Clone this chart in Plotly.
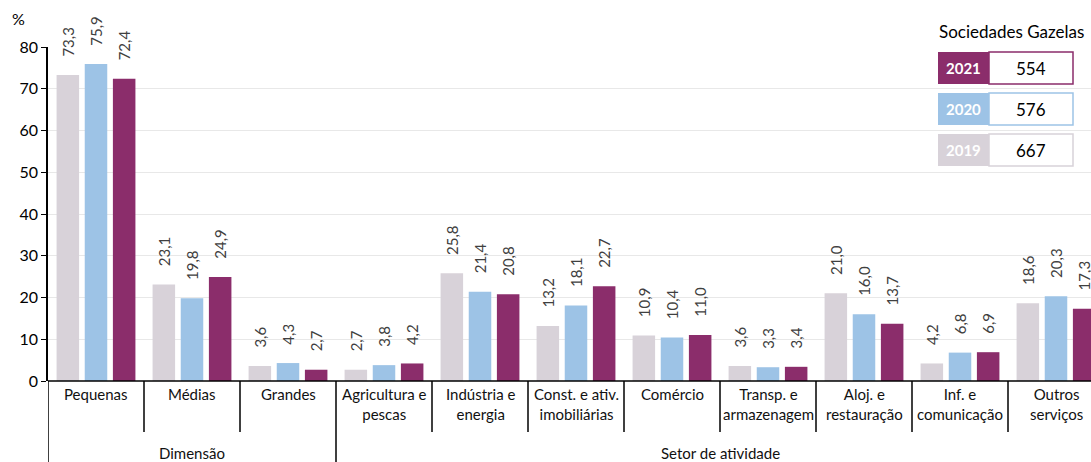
import plotly.graph_objects as go

categories = ["Pequenas", "Médias", "Grandes", "Agricultura e<br>pescas", "Indústria e<br>energia",
              "Const. e ativ.<br>imobiliárias", "Comércio", "Transp. e<br>armazenagem",
              "Aloj. e<br>restauração", "Inf. e<br>comunicação", "Outros<br>serviços"]
v2019 = [73.3, 23.1, 3.6, 2.7, 25.8, 13.2, 10.9, 3.6, 21.0, 4.2, 18.6]
v2020 = [75.9, 19.8, 4.3, 3.8, 21.4, 18.1, 10.4, 3.3, 16.0, 6.8, 20.3]
v2021 = [72.4, 24.9, 2.7, 4.2, 20.8, 22.7, 11.0, 3.4, 13.7, 6.9, 17.3]
years = ["2019", "2020", "2021"]
counts = [667, 576, 554]
colors = ["#D8D2D9", "#9DC3E6", "#8B2D6B"]
groups = [("Dimensão", 0, 2), ("Setor de atividade", 3, 10)]
yticks = [0, 10, 20, 30, 40, 50, 60, 70, 80]

FONT = "Lato"
W, H = 1091, 462
ML, MR, MT, MB = 48, 0, 47, 81
PW, PH = W - ML - MR, H - MT - MB


def px(x):
    return (x - ML) / PW


def py(y):
    return (H - MB - y) / PH


def fmt(v):
    return "\u00a0" * 4 + f"{v:.1f}".replace(".", ",")


xs = list(range(len(categories)))
fig = go.Figure()
for yr, vals, col in zip(years, [v2019, v2020, v2021], colors):
    fig.add_trace(go.Bar(
        x=xs, y=vals, name=yr, marker=dict(color=col, line=dict(width=0)),
        text=[fmt(v) for v in vals], textposition="outside", textangle=-90,
        constraintext="none", cliponaxis=False,
        textfont=dict(family=FONT, size=15, color="#404040"),
    ))

xmax = -0.5 + PW / 96.0
shapes = []
annotations = []
shapes.append(dict(type="line", xref="paper", yref="paper", x0=0, x1=1, y0=0, y1=0,
                   line=dict(color="black", width=1.5)))
group_starts = [g[1] for g in groups]
for i in range(len(categories) + 1):
    full = i in group_starts
    y1 = py(H) if full else py(432)
    shapes.append(dict(type="line", xref="x", yref="paper", x0=i - 0.5, x1=i - 0.5,
                       y0=0, y1=y1, line=dict(color="black", width=1.5)))
for i, c in enumerate(categories):
    annotations.append(dict(x=i, y=py(383), xref="x", yref="paper", text=c, showarrow=False,
                            xanchor="center", yanchor="top",
                            font=dict(family=FONT, size=15, color="#111111")))
for name, a, b in groups:
    annotations.append(dict(x=(a + b) / 2, y=py(442), xref="x", yref="paper", text=name,
                            showarrow=False, xanchor="center", yanchor="top",
                            font=dict(family=FONT, size=15, color="#111111")))
annotations.append(dict(x=px(18), y=py(18), xref="paper", yref="paper", text="%",
                        showarrow=False, xanchor="center", yanchor="middle",
                        font=dict(family=FONT, size=16, color="black")))

annotations.append(dict(x=px(1011), y=py(31), xref="paper", yref="paper", text="Sociedades Gazelas",
                        showarrow=False, xanchor="center", yanchor="middle",
                        font=dict(family=FONT, size=17, color="black")))
row_tops = {"2021": 52, "2020": 93, "2019": 134}
for yr, cnt, col in zip(years, counts, colors):
    t = row_tops[yr]
    b = t + 32
    shapes.append(dict(type="rect", xref="paper", yref="paper", x0=px(938), x1=px(989),
                       y0=py(b), y1=py(t), fillcolor=col, line=dict(width=0)))
    shapes.append(dict(type="rect", xref="paper", yref="paper", x0=px(989), x1=px(1073),
                       y0=py(b), y1=py(t), fillcolor="white", line=dict(color=col, width=1.5)))
    annotations.append(dict(x=px(963.5), y=py(t + 16), xref="paper", yref="paper",
                            text=f"<b>{yr}</b>", showarrow=False, xanchor="center",
                            yanchor="middle", font=dict(family=FONT, size=15, color="white")))
    annotations.append(dict(x=px(1031), y=py(t + 16), xref="paper", yref="paper",
                            text=str(cnt), showarrow=False, xanchor="center",
                            yanchor="middle", font=dict(family=FONT, size=17, color="black")))

fig.update_layout(
    width=W, height=H, margin=dict(l=ML, r=MR, t=MT, b=MB),
    paper_bgcolor="white", plot_bgcolor="white",
    barmode="group", bargap=0.12, bargroupgap=0.2, showlegend=False,
    xaxis=dict(range=[-0.5, xmax], showticklabels=False, showgrid=False, zeroline=False,
               showline=False, ticks=""),
    yaxis=dict(range=[0, 80], tickvals=yticks, showgrid=True, gridcolor="#E8E8E8",
               gridwidth=1, zeroline=False, showline=True, linecolor="black", linewidth=1.5,
               ticks="outside", ticklen=5, tickcolor="black",
               tickfont=dict(family=FONT, size=16, color="black")),
    shapes=shapes, annotations=annotations,
)
fig.write_html("out.html")
